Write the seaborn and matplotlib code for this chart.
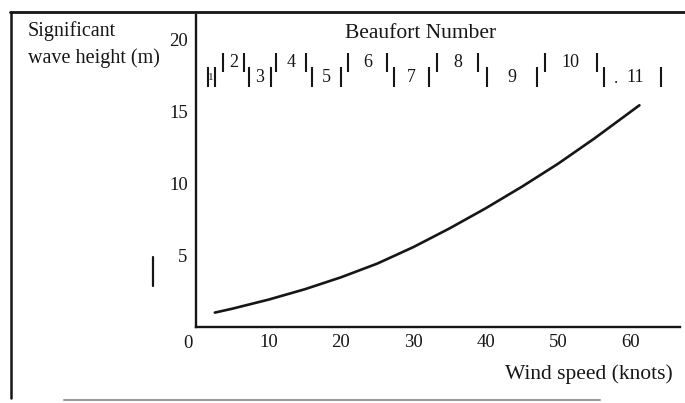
import matplotlib
matplotlib.use("Agg")
import matplotlib.pyplot as plt
from matplotlib.lines import Line2D
import seaborn as sns
import pandas as pd

# Significant wave height against wind speed
wind_knots = [2.6, 5, 10, 15, 20, 25, 30, 35, 40, 45, 50, 55, 61.2]
wave_height_m = [1.0, 1.27, 1.9, 2.62, 3.45, 4.4, 5.55, 6.85, 8.25, 9.75, 11.35, 13.1, 15.4]

# Beaufort scale bands (knots)
beaufort_numbers = [1, 2, 3, 4, 5, 6, 7, 8, 9, 10, 11]
beaufort_low_kn = [1.6, 3.7, 7.3, 11.1, 16.0, 21.0, 27.3, 33.3, 40.1, 48.1, 56.3]
beaufort_high_kn = [2.6, 6.6, 10.4, 15.2, 20.0, 26.3, 32.2, 38.9, 47.1, 55.3, 64.2]

x_ticks = [10, 20, 30, 40, 50, 60]
y_ticks = [5, 10, 15, 20]

sns.set_theme(style="white")
plt.rcParams["font.family"] = ["Liberation Serif", "DejaVu Serif"]
ink = "#161616"

W, H = 685, 403
fig = plt.figure(figsize=(W / 100, H / 100), dpi=100)
fig.patch.set_facecolor("white")


def fx(px):
    return px / W


def fy(py):
    return 1 - py / H


ax = fig.add_axes([fx(196), fy(327), 484 / W, 312 / H])
ax.set_facecolor("white")

df = pd.DataFrame({"wind": wind_knots, "wave": wave_height_m})
sns.lineplot(data=df, x="wind", y="wave", ax=ax, color=ink, linewidth=1.9)

ax.set_xlim(0, 66.8)
ax.set_ylim(0, 21.67)
ax.set_xlabel("")
ax.set_ylabel("")
for side in ("top", "right"):
    ax.spines[side].set_visible(False)
for side in ("left", "bottom"):
    ax.spines[side].set_color(ink)
    ax.spines[side].set_linewidth(1.7)

ax.set_xticks(x_ticks)
ax.set_xticklabels([str(v) for v in x_ticks])
ax.set_yticks(y_ticks)
ax.set_yticklabels([str(v) for v in y_ticks])
ax.tick_params(axis="both", direction="in", length=5, width=1.3, color=ink,
               labelcolor=ink, labelsize=13.5)
ax.tick_params(axis="x", pad=5)
ax.tick_params(axis="y", pad=6)

# origin label
fig.text(fx(188), fy(343), "0", ha="center", va="center", fontsize=13.5, color=ink)

# Beaufort band markers, alternating high / low
hi_bar = (17.71, 19.03)
lo_bar = (16.67, 18.06)
for n, lo, hi in zip(beaufort_numbers, beaufort_low_kn, beaufort_high_kn):
    high = n % 2 == 0
    y0, y1 = hi_bar if high else lo_bar
    ax.vlines([lo, hi], y0, y1, color=ink, linewidth=1.5)
    ty = 18.4 if high else 17.36
    size = 8 if n == 1 else 13
    ax.text((lo + hi) / 2 + (0.4 if n == 11 else 0), ty, str(n), ha="center",
            va="center", fontsize=size, color=ink)
ax.text(57.9, 17.2, ".", ha="center", va="center", fontsize=12, color=ink)

ax.text(31.0, 20.4, "Beaufort Number", ha="center", va="center", fontsize=15.5,
        color=ink)

# axis titles
fig.text(fx(28), fy(31), "Significant", ha="left", va="center", fontsize=14.5,
         color=ink)
fig.text(fx(28), fy(58), "wave height (m)", ha="left", va="center", fontsize=14.5,
         color=ink)
fig.text(fx(673), fy(374), "Wind speed (knots)", ha="right", va="center",
         fontsize=15.5, color=ink)

# page frame
fig.add_artist(Line2D([fx(10), fx(685)], [fy(12), fy(12)], color=ink, lw=2.0))
fig.add_artist(Line2D([fx(11), fx(11)], [fy(12), fy(398)], color=ink, lw=1.8))
fig.add_artist(Line2D([fx(64), fx(600)], [fy(400), fy(400)], color="#9a9a9a",
                      lw=1.5))
fig.add_artist(Line2D([fx(153), fx(153)], [fy(257), fy(286)], color=ink, lw=1.6))

fig.savefig("out.png", dpi=100, facecolor="white")
